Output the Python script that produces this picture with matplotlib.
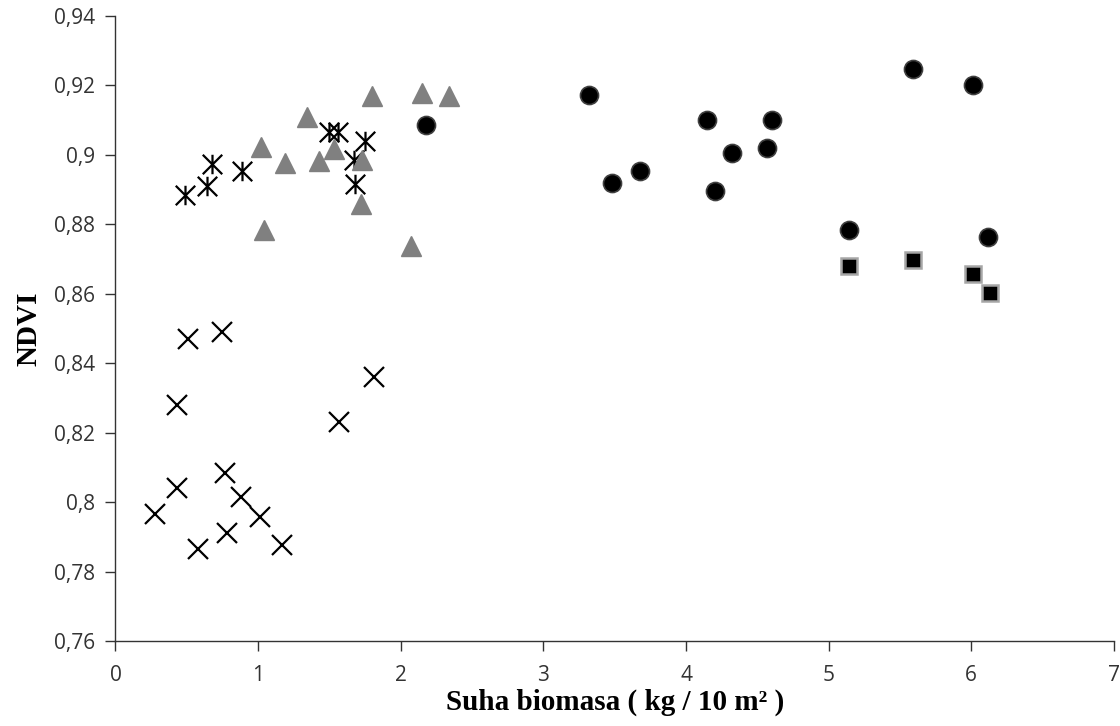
import numpy as np
import matplotlib
matplotlib.use("Agg")
import matplotlib.pyplot as plt
from matplotlib.path import Path

# crosses
x_cross = [0.51, 0.75, 0.43, 1.81, 1.57, 0.77, 0.43, 0.28, 0.88, 1.01, 0.78, 0.58, 1.17]
y_cross = [0.847, 0.849, 0.828, 0.836, 0.823, 0.8085, 0.804, 0.7965, 0.8014, 0.7958, 0.791, 0.7864, 0.7876]

# asterisks
x_star = [0.49, 0.64, 0.68, 0.89, 1.50, 1.56, 1.75, 1.67, 1.68]
y_star = [0.8884, 0.8911, 0.8974, 0.8954, 0.9065, 0.9065, 0.904, 0.8985, 0.8915]

# grey triangles
x_tri = [1.80, 2.15, 2.34, 1.34, 1.02, 1.19, 1.43, 1.53, 1.73, 1.72, 1.04, 2.07]
y_tri = [0.9168, 0.9178, 0.9168, 0.9108, 0.9022, 0.8976, 0.8983, 0.9016, 0.8985, 0.8858, 0.8784, 0.8738]

# black circles
x_circ = [3.32, 5.59, 6.01, 4.15, 4.60, 4.32, 4.57, 3.68, 3.48, 4.20, 5.14, 6.12, 2.18]
y_circ = [0.9172, 0.9247, 0.9201, 0.910, 0.910, 0.9004, 0.9021, 0.8954, 0.8918, 0.8897, 0.8784, 0.8763, 0.9086]

# black squares
x_sq = [5.14, 5.59, 6.01, 6.13]
y_sq = [0.868, 0.8697, 0.8656, 0.8601]

xticks = [0, 1, 2, 3, 4, 5, 6, 7]
yticks = [0.76, 0.78, 0.80, 0.82, 0.84, 0.86, 0.88, 0.90, 0.92, 0.94]
ytick_labels = ["0,76", "0,78", "0,8", "0,82", "0,84", "0,86", "0,88", "0,9", "0,92", "0,94"]

star = Path([(0, -1), (0, 1), (-1, -1), (1, 1), (-1, 1), (1, -1)],
            [Path.MOVETO, Path.LINETO, Path.MOVETO, Path.LINETO, Path.MOVETO, Path.LINETO])

fig = plt.figure(figsize=(11.2, 7.26), dpi=100)
ax = fig.add_axes([0.1031, 0.1171, 0.8915, 0.861])

ax.plot(x_cross, y_cross, ls="none", marker="x", ms=14, mew=1.6, color="black")
ax.plot(x_star, y_star, ls="none", marker=star, ms=14, mew=1.6, color="black")
ax.plot(x_tri, y_tri, ls="none", marker="^", ms=15, mfc="#808080", mec="#808080", mew=1)
ax.plot(x_circ, y_circ, ls="none", marker="o", ms=13, mfc="black", mec="#404040", mew=1.2)
ax.plot(x_sq, y_sq, ls="none", marker="s", ms=11.5, mfc="black", mec="#a6a6a6", mew=1.8)

ax.set_xlim(0, 7)
ax.set_ylim(0.76, 0.94)
ax.set_xticks(xticks)
ax.set_xticklabels([str(t) for t in xticks])
ax.set_yticks(yticks)
ax.set_yticklabels(ytick_labels)

for s in ["top", "right"]:
    ax.spines[s].set_visible(False)
for s in ["left", "bottom"]:
    ax.spines[s].set_color("#333333")
    ax.spines[s].set_linewidth(1)

ax.tick_params(direction="out", length=7, width=1, color="#333333",
               labelsize=15, labelcolor="#333333")
ax.tick_params(axis="x", pad=10)
ax.tick_params(axis="y", pad=8)
for lab in ax.get_xticklabels() + ax.get_yticklabels():
    lab.set_family("Open Sans")

ax.set_xlabel("Suha biomasa ( kg / 10 m² )", family="Liberation Serif",
              fontweight="bold", fontsize=21, labelpad=2)
ax.set_ylabel("NDVI", family="Liberation Serif", fontweight="bold", fontsize=21, labelpad=8)

fig.savefig("out.png", dpi=100)
